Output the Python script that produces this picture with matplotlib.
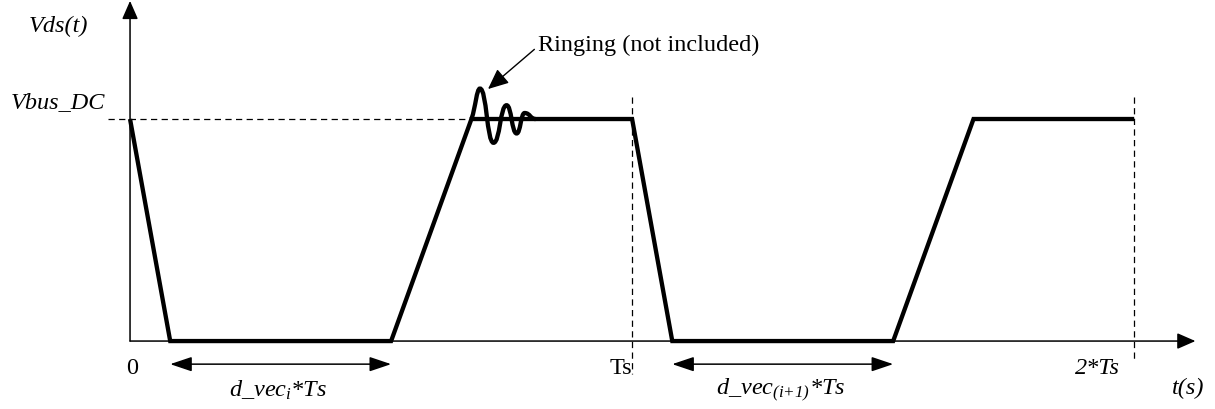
import matplotlib
matplotlib.use("Agg")
import matplotlib.pyplot as plt
from matplotlib.path import Path
from matplotlib.patches import PathPatch

plt.rcParams["font.family"] = ["Liberation Serif", "DejaVu Serif"]
plt.rcParams["mathtext.fontset"] = "custom"
plt.rcParams["mathtext.rm"] = "Liberation Serif:italic"
plt.rcParams["mathtext.it"] = "Liberation Serif:italic"
plt.rcParams["mathtext.bf"] = "Liberation Serif:bold"

# Switching waveform of the drain-source voltage (time in units of Ts, voltage normalised to Vbus_DC)
wave_t = [0.0, 0.08, 0.52, 0.68, 1.0, 1.08, 1.52, 1.68, 2.0]
wave_v = [1.0, 0.0, 0.0, 1.0, 1.0, 0.0, 0.0, 1.0, 1.0]
rise_slope = 1.0 / (0.68 - 0.52)

# Ringing after the first turn-off edge: start point followed by successive extrema
ring_t = [0.68, 0.697, 0.724, 0.750, 0.770, 0.786, 0.808]
ring_v = [1.0, 1.137, 0.893, 1.062, 0.935, 1.027, 1.0]

# Duty-cycle spans
span_start = [0.08, 1.08]
span_end = [0.52, 1.52]
span_labels = [r"$d\_vec_{i}{*}Ts$", r"$d\_vec_{(i{+}1)}{*}Ts$"]

# Period markers on the time axis
period_t = [1.0, 2.0]
period_labels = ["Ts", "2*Ts"]

fig = plt.figure(figsize=(12.15, 4.1), dpi=100)
ax = fig.add_axes([0, 0, 1, 1])
ax.set_xlim(-0.259, 2.161)
ax.set_ylim(-0.306, 1.5405)
ax.axis("off")

fs = 17.5
ink = "black"

# Axes with arrowheads
axis_style = "-|>,head_length=0.8,head_width=0.35"
ax.annotate("", xy=(0, 1.532), xytext=(0, 0),
            arrowprops=dict(arrowstyle=axis_style, mutation_scale=14, lw=1.1,
                            color=ink, shrinkA=0, shrinkB=0))
ax.annotate("", xy=(2.122, 0), xytext=(0, 0),
            arrowprops=dict(arrowstyle=axis_style, mutation_scale=14, lw=1.1,
                            color=ink, shrinkA=0, shrinkB=0))

# Reference dashed lines
dash = (0, (5, 3.5))
ax.plot([-0.044, 0.68], [1.0, 1.0], color=ink, lw=0.9, linestyle=dash)
ax.plot([period_t[0], period_t[0]], [1.10, -0.149], color=ink, lw=0.9, linestyle=dash)
ax.plot([period_t[1], period_t[1]], [1.10, -0.09], color=ink, lw=0.9, linestyle=dash)

# Main waveform
ax.plot(wave_t, wave_v, color=ink, lw=3.1, solid_joinstyle="miter",
        solid_capstyle="butt", zorder=4)

# Ringing drawn as a chain of cubic Bezier segments through the extrema
verts = [(ring_t[0], ring_v[0])]
codes = [Path.MOVETO]
for k in range(1, len(ring_t)):
    t0, v0 = ring_t[k - 1], ring_v[k - 1]
    t1, v1 = ring_t[k], ring_v[k]
    dt = t1 - t0
    if k == 1:
        c1 = (t0 + 0.5 * dt, v0 + 0.5 * dt * rise_slope)
        c2 = (t1 - 0.4 * dt, v1)
    else:
        c1 = (t0 + 0.5 * dt, v0)
        c2 = (t1 - 0.5 * dt, v1)
    verts += [c1, c2, (t1, v1)]
    codes += [Path.CURVE4] * 3
ax.add_patch(PathPatch(Path(verts, codes), facecolor="none", edgecolor=ink,
                       lw=3.1, zorder=4))

# Ringing annotation
ax.annotate("Ringing (not included)", xy=(0.713, 1.135), xytext=(0.813, 1.338),
            fontsize=fs, ha="left", va="center",
            arrowprops=dict(arrowstyle="-|>,head_length=0.9,head_width=0.4",
                            mutation_scale=14, lw=1.0, color=ink,
                            shrinkA=1, shrinkB=0,
                            relpos=(0.0, 0.4)))

# Duty-cycle double arrows and labels
for a, b, lab in zip(span_start, span_end, span_labels):
    ax.annotate("", xy=(b, -0.104), xytext=(a, -0.104),
                arrowprops=dict(arrowstyle="<|-|>,head_length=0.95,head_width=0.32",
                                mutation_scale=14, lw=1.1, color=ink,
                                shrinkA=0, shrinkB=0))
    ax.text((a + b) / 2 - 0.005, -0.216, lab, fontsize=fs, ha="center", va="center")

# Axis labels and tick texts
ax.text(-0.143, 1.423, "Vds(t)", fontsize=fs, style="italic", ha="center", va="center")
ax.text(-0.143, 1.077, "Vbus_DC", fontsize=fs, style="italic", ha="center", va="center")
ax.text(0.004, -0.117, "0", fontsize=fs, ha="center", va="center")
ax.text(0.978, -0.117, period_labels[0], fontsize=fs, ha="center", va="center")
ax.text(1.926, -0.117, period_labels[1], fontsize=fs, style="italic", ha="center", va="center")
ax.text(2.108, -0.207, "t(s)", fontsize=fs, style="italic", ha="center", va="center")

fig.savefig("out.png", dpi=100)
